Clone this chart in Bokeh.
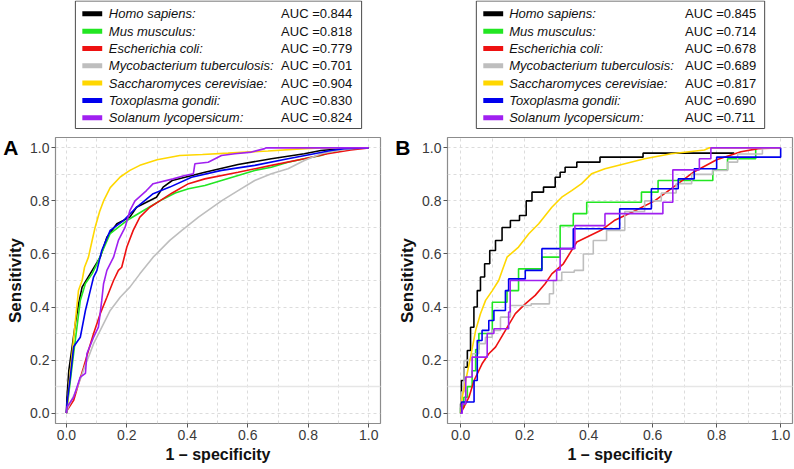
from bokeh.plotting import figure
from bokeh.layouts import row, column
from bokeh.models import (Range1d, FixedTicker, PrintfTickFormatter, Span, LinearAxis,
                          CustomJSTickFormatter)
from bokeh.core.properties import value
from bokeh.embed import file_html
from bokeh.resources import INLINE

FONT = "Liberation Sans"

# ---------------- data ----------------
species = ["Homo sapiens:", "Mus musculus:", "Escherichia coli:",
           "Mycobacterium tuberculosis:", "Saccharomyces cerevisiae:",
           "Toxoplasma gondii:", "Solanum lycopersicum:"]
colors = ["#000000", "#22e622", "#ee1111", "#bebebe", "#ffd700", "#0000ee", "#a020f0"]
auc_a = [0.844, 0.818, 0.779, 0.701, 0.904, 0.830, 0.824]
auc_b = [0.845, 0.714, 0.678, 0.689, 0.817, 0.690, 0.711]

axis_ticks = [0.0, 0.2, 0.4, 0.6, 0.8, 1.0]
grid_ticks = [0.0, 0.1, 0.2, 0.3, 0.4, 0.5, 0.6, 0.7, 0.8, 0.9, 1.0]

# Panel A (1 - specificity, sensitivity)
a_homo_x = [0, 0.002, 0.008, 0.019, 0.030, 0.040, 0.052, 0.079, 0.112, 0.134, 0.167, 0.21, 0.232, 0.265, 0.298, 0.32, 0.35, 0.458, 0.568, 0.678, 0.787, 0.842, 0.919, 1.0]
a_homo_y = [0, 0.06, 0.16, 0.25, 0.34, 0.41, 0.475, 0.526, 0.588, 0.663, 0.714, 0.739, 0.776, 0.795, 0.814, 0.852, 0.877, 0.908, 0.937, 0.959, 0.978, 0.99, 0.997, 1.0]
a_mus_x = [0, 0.008, 0.024, 0.035, 0.046, 0.063, 0.085, 0.101, 0.145, 0.20, 0.254, 0.309, 0.36, 0.404, 0.458, 0.513, 0.568, 0.623, 0.678, 0.733, 0.787, 0.842, 0.875, 0.919, 1.0]
a_mus_y = [0, 0.074, 0.225, 0.324, 0.425, 0.489, 0.525, 0.563, 0.677, 0.726, 0.763, 0.80, 0.83, 0.846, 0.858, 0.877, 0.896, 0.915, 0.927, 0.946, 0.959, 0.971, 0.984, 0.997, 1.0]
a_eco_x = [0, 0.002, 0.024, 0.04, 0.057, 0.073, 0.09, 0.112, 0.134, 0.156, 0.172, 0.183, 0.20, 0.221, 0.243, 0.276, 0.309, 0.35, 0.404, 0.458, 0.568, 0.678, 0.787, 0.864, 0.941, 1.0]
a_eco_y = [0, 0.01, 0.048, 0.11, 0.173, 0.236, 0.30, 0.375, 0.437, 0.50, 0.538, 0.55, 0.626, 0.689, 0.739, 0.776, 0.80, 0.83, 0.865, 0.883, 0.908, 0.934, 0.959, 0.978, 0.992, 1.0]
a_myc_x = [0, 0.005, 0.03, 0.05, 0.064, 0.073, 0.09, 0.112, 0.145, 0.178, 0.21, 0.243, 0.287, 0.342, 0.382, 0.437, 0.513, 0.568, 0.623, 0.678, 0.733, 0.787, 0.842, 0.897, 0.952, 1.0]
a_myc_y = [0, 0.02, 0.08, 0.14, 0.186, 0.211, 0.262, 0.312, 0.387, 0.437, 0.475, 0.525, 0.588, 0.651, 0.689, 0.739, 0.80, 0.839, 0.877, 0.902, 0.921, 0.952, 0.978, 0.99, 0.998, 1.0]
a_sac_x = [0, 0.004, 0.008, 0.019, 0.030, 0.040, 0.052, 0.060, 0.073, 0.085, 0.095, 0.110, 0.123, 0.145, 0.178, 0.21, 0.243, 0.30, 0.375, 0.45, 0.535, 0.667, 0.776, 0.84, 1.0]
a_sac_y = [0, 0.04, 0.098, 0.225, 0.35, 0.462, 0.50, 0.55, 0.588, 0.65, 0.70, 0.76, 0.80, 0.85, 0.89, 0.915, 0.934, 0.955, 0.971, 0.975, 0.98, 0.988, 0.996, 1.0, 1.0]
a_tox_x = [0, 0.002, 0.013, 0.024, 0.046, 0.063, 0.079, 0.09, 0.101, 0.117, 0.145, 0.189, 0.232, 0.287, 0.342, 0.414, 0.513, 0.623, 0.733, 0.82, 0.875, 0.919, 1.0]
a_tox_y = [0, 0.036, 0.136, 0.25, 0.286, 0.387, 0.462, 0.513, 0.538, 0.613, 0.689, 0.726, 0.776, 0.827, 0.852, 0.889, 0.915, 0.934, 0.959, 0.978, 0.99, 0.997, 1.0]
a_sol_x = [0, 0.002, 0.024, 0.046, 0.063, 0.068, 0.09, 0.106, 0.117, 0.123, 0.134, 0.156, 0.172, 0.194, 0.21, 0.227, 0.265, 0.287, 0.353, 0.392, 0.42, 0.425, 0.469, 0.513, 0.557, 0.612, 0.656, 0.66, 1.0]
a_sol_y = [0, 0.023, 0.06, 0.136, 0.15, 0.225, 0.286, 0.324, 0.425, 0.488, 0.538, 0.588, 0.651, 0.70, 0.763, 0.80, 0.839, 0.865, 0.883, 0.896, 0.902, 0.94, 0.946, 0.971, 0.978, 0.984, 0.997, 1.0, 1.0]

# Panel B
b_homo_x = [0, 0, 0.005, 0.016, 0.026, 0.036, 0.047, 0.057, 0.067, 0.083, 0.099, 0.119, 0.14, 0.171, 0.197, 0.213, 0.233, 0.285, 0.306, 0.316, 0.337, 0.389, 0.482, 0.658, 0.855]
b_homo_y = [0, 0.035, 0.123, 0.173, 0.236, 0.324, 0.40, 0.462, 0.513, 0.563, 0.613, 0.651, 0.70, 0.726, 0.745, 0.80, 0.833, 0.852, 0.889, 0.908, 0.927, 0.946, 0.965, 0.98, 0.98]
b_mus_x = [0, 0, 0.01, 0.01, 0.021, 0.021, 0.036, 0.036, 0.047, 0.047, 0.057, 0.057, 0.099, 0.099, 0.145, 0.145, 0.181, 0.181, 0.254, 0.254, 0.311, 0.311, 0.352, 0.352, 0.394, 0.394, 0.565, 0.565, 0.617, 0.617, 0.788, 0.788, 0.834, 0.834, 0.922, 0.922]
b_mus_y = [0, 0.02, 0.02, 0.06, 0.06, 0.10, 0.10, 0.16, 0.16, 0.24, 0.24, 0.30, 0.30, 0.418, 0.418, 0.462, 0.462, 0.544, 0.544, 0.588, 0.588, 0.707, 0.707, 0.752, 0.752, 0.795, 0.795, 0.833, 0.833, 0.877, 0.877, 0.917, 0.917, 0.959, 0.959, 1.0]
b_eco_x = [0, 0.005, 0.026, 0.042, 0.067, 0.088, 0.109, 0.14, 0.171, 0.202, 0.233, 0.264, 0.285, 0.321, 0.363, 0.44, 0.48, 0.54, 0.606, 0.668, 0.73, 0.80, 0.876, 0.93, 1.0]
b_eco_y = [0, 0.01, 0.06, 0.123, 0.186, 0.224, 0.249, 0.312, 0.375, 0.412, 0.444, 0.488, 0.525, 0.563, 0.645, 0.69, 0.726, 0.76, 0.80, 0.855, 0.91, 0.955, 0.985, 0.997, 1.0]
b_myc_x = [0, 0.005, 0.016, 0.026, 0.047, 0.067, 0.088, 0.109, 0.14, 0.171, 0.27, 0.285, 0.295, 0.337, 0.373, 0.394, 0.435, 0.477, 0.549, 0.601, 0.653, 0.694, 0.75, 0.824, 0.845, 0.886, 1.0]
b_myc_y = [0, 0.08, 0.198, 0.20, 0.224, 0.262, 0.286, 0.312, 0.362, 0.406, 0.412, 0.45, 0.50, 0.531, 0.538, 0.60, 0.651, 0.689, 0.76, 0.80, 0.83, 0.865, 0.90, 0.915, 0.946, 0.977, 1.0]
b_sac_x = [0, 0.005, 0.016, 0.031, 0.047, 0.062, 0.078, 0.099, 0.119, 0.13, 0.145, 0.181, 0.213, 0.244, 0.285, 0.316, 0.347, 0.378, 0.409, 0.451, 0.513, 0.575, 0.658, 0.762, 0.777, 1.0]
b_sac_y = [0, 0.06, 0.123, 0.211, 0.312, 0.375, 0.425, 0.462, 0.50, 0.538, 0.588, 0.626, 0.676, 0.714, 0.776, 0.814, 0.839, 0.865, 0.902, 0.921, 0.94, 0.959, 0.978, 0.992, 1.0, 1.0]
b_tox_x = [0, 0.003, 0.003, 0.042, 0.042, 0.052, 0.052, 0.067, 0.067, 0.088, 0.088, 0.104, 0.104, 0.14, 0.14, 0.15, 0.15, 0.202, 0.202, 0.254, 0.254, 0.352, 0.352, 0.497, 0.497, 0.596, 0.596, 0.68, 0.68, 0.73, 0.73, 0.80, 0.80, 1.0, 1.0]
b_tox_y = [0, 0, 0.042, 0.042, 0.123, 0.123, 0.274, 0.274, 0.312, 0.312, 0.349, 0.349, 0.387, 0.387, 0.462, 0.462, 0.506, 0.506, 0.538, 0.538, 0.62, 0.62, 0.695, 0.695, 0.77, 0.77, 0.846, 0.846, 0.883, 0.883, 0.921, 0.921, 0.965, 0.965, 1.0]
b_sol_x = [0, 0.005, 0.005, 0.016, 0.016, 0.036, 0.036, 0.083, 0.083, 0.104, 0.104, 0.15, 0.15, 0.155, 0.155, 0.30, 0.30, 0.311, 0.311, 0.357, 0.357, 0.451, 0.451, 0.632, 0.632, 0.663, 0.663, 0.746, 0.746, 0.782, 0.782, 1.0]
b_sol_y = [0, 0, 0.035, 0.035, 0.136, 0.136, 0.211, 0.211, 0.30, 0.30, 0.318, 0.318, 0.381, 0.381, 0.50, 0.50, 0.54, 0.54, 0.62, 0.62, 0.707, 0.707, 0.752, 0.752, 0.795, 0.795, 0.917, 0.917, 0.959, 0.959, 1.0, 1.0]

curves_a = [(a_homo_x, a_homo_y, "line"), (a_mus_x, a_mus_y, "line"), (a_eco_x, a_eco_y, "line"),
            (a_myc_x, a_myc_y, "line"), (a_sac_x, a_sac_y, "line"), (a_tox_x, a_tox_y, "line"),
            (a_sol_x, a_sol_y, "line")]
curves_b = [(b_homo_x, b_homo_y, "step"), (b_mus_x, b_mus_y, "line"), (b_eco_x, b_eco_y, "line"),
            (b_myc_x, b_myc_y, "step"), (b_sac_x, b_sac_y, "line"), (b_tox_x, b_tox_y, "line"),
            (b_sol_x, b_sol_y, "line")]

# ---------------- layout (page pixels) ----------------
LEG_H = 129
PLOT_H = 339
BORDER_L = 53


def make_legend(width, mbr, frame_l, frame_r, box_l, box_r, sw_l, name_x, auc_x, aucs):
    # x range expressed in page pixels of the (aligned) frame
    p = figure(width=width, height=LEG_H, x_range=Range1d(frame_l, frame_r),
               y_range=Range1d(LEG_H, 0), output_backend="svg", toolbar_location=None,
               min_border_left=BORDER_L, min_border_right=mbr, min_border_top=0,
               min_border_bottom=0, x_axis_location=None, y_axis_location=None)
    p.grid.visible = False
    p.outline_line_color = None
    p.background_fill_color = "white"
    p.border_fill_color = "white"
    p.quad(left=[box_l], right=[box_r], top=[0.5], bottom=[128],
           fill_color=None, line_color="#4a4a4a", line_width=1)
    ys = [13.3 + 17.33 * i for i in range(len(species))]
    p.rect(x=sw_l + 10, y=ys, width=20, height=5, fill_color=colors, line_color=None)
    p.text(x=name_x, y=ys, text=species, text_font=value(FONT), text_font_size="13px",
           text_font_style="italic", text_baseline="middle", text_align="left",
           text_color="#111111")
    p.text(x=auc_x, y=ys, text=["AUC =%.3f" % a for a in aucs], text_font=value(FONT),
           text_font_size="13px", text_baseline="middle", text_align="left",
           text_color="#111111")
    return p


def make_plot(width, mbr, xr, curves, letter):
    p = figure(width=width, height=PLOT_H, x_range=Range1d(*xr), y_range=Range1d(-0.039, 1.039),
               output_backend="svg", toolbar_location=None,
               min_border_left=BORDER_L, min_border_right=mbr, min_border_top=8,
               min_border_bottom=45)
    p.background_fill_color = "white"
    p.border_fill_color = "white"
    p.outline_line_color = "#8c8c8c"
    p.outline_line_width = 1.2
    for ax in (p.xaxis[0], p.yaxis[0]):
        ax.ticker = FixedTicker(ticks=axis_ticks)
        ax.formatter = PrintfTickFormatter(format="%.1f")
        ax.axis_line_color = None
        ax.major_tick_out = 4
        ax.major_tick_in = 0
        ax.minor_tick_out = 0
        ax.minor_tick_in = 0
        ax.major_tick_line_color = "#555555"
        ax.major_label_text_font = FONT
        ax.major_label_text_font_size = "14px"
        ax.major_label_text_color = "#3a3a3a"
        ax.major_label_standoff = 2
        ax.axis_label_text_font = FONT
        ax.axis_label_text_font_style = "bold"
        ax.axis_label_text_color = "#111111"
        ax.axis_label_standoff = 2
    p.xaxis.axis_label = "1 \u2013 specificity"
    p.xaxis.axis_label_text_font_size = "16px"
    p.xaxis.axis_label_standoff = 3
    p.yaxis.axis_label = "Sensitivity"
    p.yaxis.axis_label_text_font_size = "17px"
    # panel letter, drawn as the single label of an outer left axis
    letter_axis = LinearAxis(ticker=FixedTicker(ticks=[1.0]),
                             formatter=CustomJSTickFormatter(code="return '%s';" % letter),
                             axis_line_color=None, major_tick_line_color=None,
                             minor_tick_line_color=None, major_tick_out=0, major_tick_in=0,
                             major_label_standoff=-15, major_label_text_font=FONT,
                             major_label_text_font_size="21px",
                             major_label_text_font_style="bold",
                             major_label_text_color="#000000")
    p.add_layout(letter_axis, "left")
    for g in (p.xgrid[0], p.ygrid[0]):
        g.ticker = FixedTicker(ticks=grid_ticks)
        g.grid_line_color = "#dcdcdc"
        g.grid_line_dash = "3 3"
        g.grid_line_width = 1
    p.add_layout(Span(location=0.1, dimension="width", line_color="#e6e6e6",
                      line_width=1.5, level="underlay"))
    for (xs, ys, kind), c in zip(curves, colors):
        if kind == "step":
            p.step(xs, ys, mode="center", line_color=c, line_width=1.6)
        else:
            p.line(xs, ys, line_color=c, line_width=1.6)
    return p


# Panel A figure spans page x 0..392 (frame 53..380), panel B 392..794 (frame 445..792)
legA = make_legend(392, 12, 53, 380, 73, 361, 80, 106.7, 280, auc_a)
plotA = make_plot(392, 12, (-0.036, 1.039), curves_a, "A")
legB = make_legend(402, 2, 445, 792, 474, 764, 481, 507, 684, auc_b)
plotB = make_plot(402, 2, (-0.041, 1.037), curves_b, "B")

layout = row(column(legA, plotA), column(legB, plotB))

open("out.html", "w").write(file_html(layout, INLINE))
